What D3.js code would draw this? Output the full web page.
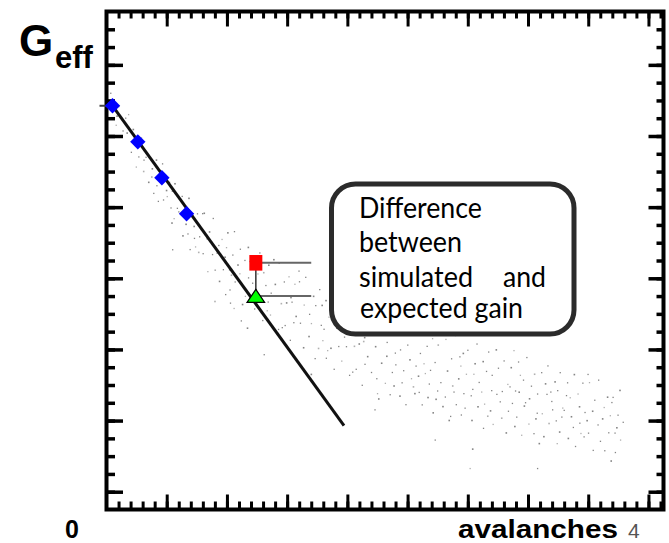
<!DOCTYPE html>
<html>
<head>
<meta charset="utf-8">
<script src="https://cdn.jsdelivr.net/npm/d3@7"></script>
<style>
  html, body { margin: 0; padding: 0; background: #fff; }
  svg { display: block; }
</style>
</head>
<body>
<svg id="chart" width="669" height="543"></svg>
<script>
// Axis domains: x in thousands of avalanches, y effective gain (arbitrary units)
const avalancheDomain = [0, 46.25];
const gainDomain = [0, 28];
const xMajorTicks = [5, 10, 15, 20, 25, 30, 35, 40, 45];
const xMinorTicks = d3.range(1, 47, 1);
const yMajorTicks = [1, 5, 9, 13, 17, 21, 25];
const yMinorTicks = d3.range(1, 28, 1);

// Calibration points and the fitted (expected) gain line
const calibX = [0.5, 2.6, 4.6, 6.65];
const calibG = [22.7, 20.67, 18.65, 16.63];
const fitX = [0.5, 19.72];
const fitG = [22.7, 4.71];

// Simulated vs expected gain at one avalanche count
const compareX = 12.4;
const simulatedG = 13.87;
const expectedG = 12.0;
const leaderEndX = 17.0;

// Simulated gain per avalanche (x, G)
const cloud = [
  [0.03,23.15],[0.11,22.04],[0.36,23.4],[0.42,22.43],[0.55,22.87],[0.81,21.6],[0.87,22.12],[1.02,22.65],[1.19,20.98],[1.33,21.9],[1.38,21.28],[1.6,22.0],[1.71,21.17],[1.84,22.2],
  [2.07,20.08],[2.22,21.37],[2.26,20.56],[2.48,19.25],[2.63,20.54],[2.69,19.82],[2.91,20.88],[3.08,19.01],[3.12,19.64],[3.29,19.8],[3.5,18.4],[3.54,19.9],[3.77,18.69],[3.8,19.16],[3.93,17.77],[2.37,20.9],
  [4.14,19.65],[4.19,18.2],[4.31,17.32],[4.58,18.53],[4.66,19.43],[4.74,17.4],[4.98,17.94],[5.05,17.59],[5.24,18.39],[5.43,16.11],[5.47,17.89],[5.62,16.35],[5.68,18.32],[5.89,16.93],[4.45,19.0],[5.35,16.96],
  [6.01,16.73],[6.29,17.6],[6.34,15.39],[6.51,16.84],[6.77,15.49],[6.84,17.5],[6.95,14.61],[7.16,16.5],[7.27,15.92],[7.31,15.24],[7.56,16.62],[7.65,14.46],[7.74,15.33],[7.99,16.63],[6.6,16.04],[7.4,14.76],
  [8.03,14.38],[8.11,16.66],[8.36,15.21],[8.42,13.37],[8.55,15.61],[8.81,14.33],[8.87,16.36],[9.02,13.46],[9.19,14.41],[9.33,14.84],[9.38,12.83],[9.6,15.18],[9.71,13.48],[9.84,14.19],[9.9,12.08],[9.97,14.72],
  [10.07,15.56],[10.22,13.47],[10.26,12.34],[10.48,14.31],[10.63,15.62],[10.69,12.79],[10.91,13.75],[11.08,13.25],[11.12,14.63],[11.29,11.53],[11.5,14.0],[11.54,11.98],[11.77,14.74],[11.8,13.02],[11.93,13.94],[10.37,13.18],
  [10.3,11.6],[11.2,10.6],[11.7,10.2],[10.6,11.3],
  [12.14,12.72],[12.19,14.16],[12.31,11.27],[12.58,13.24],[12.66,11.72],[12.74,14.42],[12.98,10.62],[13.05,13.32],[13.24,12.59],[13.43,11.66],[13.47,13.74],[13.62,10.93],[13.68,12.16],[13.89,14.05],[12.45,12.36],[13.35,11.17],
  [14.01,12.66],[14.29,10.12],[14.34,13.84],[14.51,11.58],[14.77,12.79],[14.84,10.34],[14.95,11.62],[15.16,13.08],[15.27,9.51],[15.31,11.92],[15.56,10.5],[15.65,12.66],[15.74,10.86],[15.99,13.4],[14.6,10.22],[15.4,11.66],
  [16.03,12.8],[16.11,10.47],[16.36,9.1],[16.42,11.49],[16.55,13.05],[16.81,9.73],[16.87,10.97],[17.02,10.45],[17.19,11.99],[17.33,8.48],[17.38,11.46],[17.6,9.06],[17.71,12.36],[17.84,10.35],[17.9,11.48],[17.97,9.49],
  [18.07,10.13],[18.22,11.75],[18.26,8.5],[18.48,10.81],[18.63,9.07],[18.69,12.16],[18.91,7.88],[19.08,10.93],[19.12,10.19],[19.29,9.16],[19.5,11.48],[19.54,8.34],[19.77,9.69],[19.8,11.96],[19.93,9.15],[18.37,8.93],
  [20.14,10.31],[20.19,7.54],[20.31,11.76],[20.58,9.18],[20.66,10.65],[20.74,7.88],[20.98,9.31],[21.05,11.04],[21.24,6.98],[21.43,9.67],[21.47,8.16],[21.62,10.61],[21.68,8.6],[21.89,11.53],[20.45,7.72],[21.35,9.45],
  [22.01,7.7],[22.29,10.99],[22.34,9.16],[22.51,6.51],[22.77,9.81],[22.84,8.23],[22.95,11.19],[23.16,7.09],[23.27,8.62],[23.31,9.39],[23.56,6.45],[23.65,10.07],[23.74,7.7],[23.99,8.79],[22.6,6.22],[23.4,9.88],[22.45,7.35],[23.87,6.95],
  [24.03,8.13],[24.11,9.94],[24.36,6.38],[24.42,8.97],[24.55,7.12],[24.81,10.45],[24.87,5.89],[25.02,9.24],[25.19,8.42],[25.33,7.35],[25.38,9.94],[25.6,6.52],[25.71,8.06],[25.84,10.5],[25.9,7.5],[25.97,6.58],[24.68,7.8],[25.48,6.9],
  [26.07,8.77],[26.22,5.88],[26.26,10.29],[26.48,7.64],[26.63,9.17],[26.69,6.3],[26.91,7.82],[27.08,9.6],[27.12,5.44],[27.29,8.26],[27.5,6.66],[27.54,9.25],[27.77,7.13],[27.8,10.24],[27.93,5.79],[26.37,8.19],[26.81,7.05],[27.36,6.2],
  [28.14,6.32],[28.19,9.56],[28.31,7.79],[28.58,5.23],[28.66,8.47],[28.74,6.95],[28.98,9.78],[29.05,5.89],[29.24,7.35],[29.43,8.06],[29.47,5.31],[29.62,8.78],[29.68,6.51],[29.89,7.6],[28.45,5.01],[29.35,8.58],[28.86,6.6],[29.77,5.7],
  [30.01,8.95],[30.29,6.39],[30.34,5.01],[30.51,7.6],[30.77,9.3],[30.84,5.78],[30.95,7.14],[31.16,6.6],[31.27,8.32],[31.31,4.56],[31.56,7.76],[31.65,5.25],[31.74,8.85],[31.99,6.68],[30.6,8.2],[31.4,5.92],[30.42,6.75],[31.88,5.55],
  [32.03,7.54],[32.11,4.78],[32.36,8.98],[32.42,6.47],[32.55,7.94],[32.81,5.14],[32.87,6.63],[33.02,8.35],[33.19,4.31],[33.33,7.03],[33.38,5.52],[33.6,7.98],[33.71,5.96],[33.84,8.93],[33.9,4.67],[33.97,6.66],[32.7,6.05],[33.5,6.9],
  [34.07,5.19],[34.22,8.29],[34.26,6.6],[34.48,4.17],[34.63,7.27],[34.69,5.82],[34.91,8.54],[35.08,4.8],[35.12,6.23],[35.29,6.93],[35.5,4.26],[35.54,7.61],[35.77,5.41],[35.8,6.49],[35.93,3.71],[34.37,7.54],[34.8,6.0],[35.65,5.1],
  [36.14,7.69],[36.19,5.38],[36.31,4.1],[36.58,6.47],[36.66,8.07],[36.74,4.84],[36.98,6.07],[37.05,5.6],[37.24,7.18],[37.43,3.7],[37.47,6.68],[37.62,4.36],[37.68,7.69],[37.89,5.7],[36.45,7.07],[37.35,4.98],[36.9,6.6],[37.8,5.2],
  [38.01,5.57],[38.29,7.12],[38.34,4.0],[38.51,6.28],[38.77,4.61],[38.84,7.59],[38.95,3.54],[39.16,6.49],[39.27,5.78],[39.31,4.85],[39.56,7.1],[39.65,4.09],[39.74,5.45],[39.99,7.59],[38.6,5.22],[39.4,4.27],[38.2,6.4],[39.9,5.0],
  [40.03,4.29],[40.11,7.13],[40.36,5.53],[40.42,3.32],[40.55,6.14],[40.81,4.76],[40.87,7.27],[41.02,3.83],[41.19,5.1],[41.33,5.73],[41.38,3.3],[41.6,6.32],[41.71,4.31],[41.84,5.27],[41.9,2.73],[41.97,6.01],
  [42.07,6.3],[42.22,4.3],[42.26,3.2],[42.48,5.3],[42.63,6.7],[42.69,3.9],[42.91,4.9],[42.37,4.6],
  [35.8,2.3],[30.2,2.3],[30.4,3.4],[27.3,3.9],[13.1,8.7],[9.0,11.7],[5.5,14.6],[22.3,5.6],[17.0,7.6]
];

const svg = d3.select("#chart");
const frame = { left: 106.5, right: 663.5, top: 11.5, bottom: 509.5 };

const x = d3.scaleLinear().domain(avalancheDomain).range([frame.left, frame.right]);
const y = d3.scaleLinear().domain(gainDomain).range([frame.bottom, frame.top]);

// Scatter of simulated gain (tiny grey dots)
svg.append("g")
  .selectAll("rect")
  .data(cloud)
  .join("rect")
  .attr("x", d => x(d[0]) - 0.7)
  .attr("y", d => y(d[1]) - 0.7)
  .attr("width", (d, i) => (i % 3 === 0 ? 1.6 : 1.3))
  .attr("height", (d, i) => (i % 3 === 0 ? 1.6 : 1.3))
  .attr("fill", (d, i) => (i % 4 === 1 ? "#b0b0b0" : "#858585"));

// Ticks on all four sides, pointing inward
function ticks(axisFn, scale, values, size, width, transform) {
  const g = svg.append("g")
    .attr("transform", transform)
    .call(axisFn(scale).tickValues(values).tickSize(-size).tickFormat(""));
  g.select(".domain").remove();
  g.selectAll(".tick line").attr("stroke", "#000").attr("stroke-width", width);
}
ticks(d3.axisBottom, x, xMinorTicks, 8, 3, `translate(0,${frame.bottom})`);
ticks(d3.axisBottom, x, xMajorTicks, 15, 3, `translate(0,${frame.bottom})`);
ticks(d3.axisTop, x, xMinorTicks, 7, 3, `translate(0,${frame.top})`);
ticks(d3.axisTop, x, xMajorTicks, 15, 3, `translate(0,${frame.top})`);
ticks(d3.axisLeft, y, yMinorTicks, 8.5, 3.5, `translate(${frame.left},0)`);
ticks(d3.axisLeft, y, yMajorTicks, 16.5, 3.5, `translate(${frame.left},0)`);
ticks(d3.axisRight, y, yMinorTicks, 7, 3.5, `translate(${frame.right},0)`);
ticks(d3.axisRight, y, yMajorTicks, 15, 3.5, `translate(${frame.right},0)`);

// Frame
svg.append("rect")
  .attr("x", frame.left).attr("y", frame.top)
  .attr("width", frame.right - frame.left)
  .attr("height", frame.bottom - frame.top)
  .attr("fill", "none").attr("stroke", "#000").attr("stroke-width", 4);

// Intercept mark outside the left axis
svg.append("line")
  .attr("x1", frame.left - 7).attr("x2", frame.left)
  .attr("y1", y(calibG[0])).attr("y2", y(calibG[0]))
  .attr("stroke", "#444").attr("stroke-width", 2);

// Expected gain line
svg.append("line")
  .attr("x1", x(fitX[0])).attr("y1", y(fitG[0]))
  .attr("x2", x(fitX[1])).attr("y2", y(fitG[1]))
  .attr("stroke", "#111").attr("stroke-width", 3);

// Calibration diamonds
svg.append("g")
  .selectAll("path")
  .data(calibX.map((v, i) => [v, calibG[i]]))
  .join("path")
  .attr("d", d3.symbol(d3.symbolSquare, 118))
  .attr("transform", d => `translate(${x(d[0])},${y(d[1])}) rotate(45)`)
  .attr("fill", "#0000ff");

// Leaders from the comparison markers to the note
const cx = x(compareX);
svg.append("line")
  .attr("x1", cx).attr("x2", cx)
  .attr("y1", y(simulatedG)).attr("y2", y(expectedG))
  .attr("stroke", "#333").attr("stroke-width", 1.5);
[simulatedG, expectedG].forEach(g => {
  svg.append("line")
    .attr("x1", cx).attr("x2", x(leaderEndX))
    .attr("y1", y(g)).attr("y2", y(g))
    .attr("stroke", "#666").attr("stroke-width", 2);
});

// Simulated gain marker
svg.append("rect")
  .attr("x", cx - 6.5).attr("y", y(simulatedG) - 7.8)
  .attr("width", 13).attr("height", 15.6)
  .attr("fill", "#ff0000");

// Expected gain marker
const ty = y(expectedG);
svg.append("path")
  .attr("d", `M${cx},${ty - 6.7} L${cx + 8.8},${ty + 6.3} L${cx - 8.8},${ty + 6.3} Z`)
  .attr("fill", "#00ff00").attr("stroke", "#000").attr("stroke-width", 1.2);

// Note box
svg.append("rect")
  .attr("x", 331.5).attr("y", 184)
  .attr("width", 242.5).attr("height", 150)
  .attr("rx", 24).attr("ry", 24)
  .attr("fill", "#fff").attr("stroke", "#2b2b2b").attr("stroke-width", 5);

const note = [
  { t: "Difference", x: 359, y: 218, w: 123 },
  { t: "between", x: 359, y: 252, w: 103 },
  { t: "simulated", x: 359, y: 287, w: 114 },
  { t: "and", x: 503, y: 287, w: 43 },
  { t: "expected gain", x: 360, y: 318, w: 163 }
];
svg.append("g")
  .selectAll("text")
  .data(note)
  .join("text")
  .attr("x", d => d.x).attr("y", d => d.y)
  .attr("textLength", d => d.w).attr("lengthAdjust", "spacingAndGlyphs")
  .attr("font-family", "Lato, 'Open Sans', sans-serif")
  .attr("font-size", 28)
  .attr("fill", "#000")
  .text(d => d.t);

// Axis titles
const sans = "'Liberation Sans', Arial, sans-serif";
svg.append("text").attr("x", 19).attr("y", 56)
  .attr("font-family", sans).attr("font-weight", "bold").attr("font-size", 44)
  .text("G");
svg.append("text").attr("x", 55).attr("y", 68)
  .attr("font-family", sans).attr("font-weight", "bold").attr("font-size", 31)
  .text("eff");
svg.append("text").attr("x", 65).attr("y", 538)
  .attr("font-family", sans).attr("font-weight", "bold").attr("font-size", 25)
  .text("0");
svg.append("text").attr("x", 458).attr("y", 538)
  .attr("font-family", sans).attr("font-weight", "bold").attr("font-size", 25)
  .attr("textLength", 160).attr("lengthAdjust", "spacingAndGlyphs")
  .text("avalanches");
svg.append("text").attr("x", 628).attr("y", 538)
  .attr("font-family", sans).attr("font-size", 21).attr("fill", "#555")
  .text("4");
</script>
</body>
</html>
